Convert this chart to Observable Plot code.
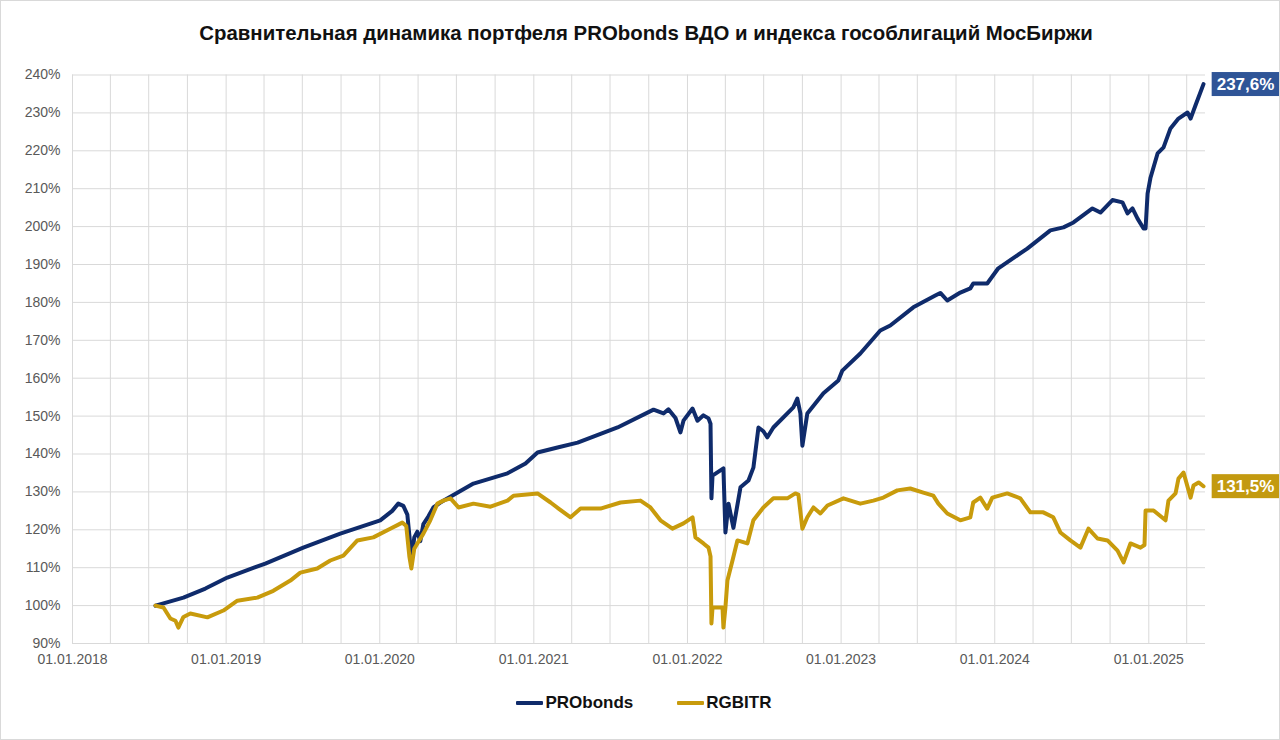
<!DOCTYPE html>
<html><head><meta charset="utf-8">
<script src="https://cdn.jsdelivr.net/npm/d3@7"></script>
<script src="https://cdn.jsdelivr.net/npm/@observablehq/plot@0.6"></script>
<style>
html,body{margin:0;padding:0;background:#fff;}
#wrap{position:relative;width:1280px;height:740px;background:#fff;font-family:"Liberation Sans",Arial,sans-serif;overflow:hidden}
#title{position:absolute;left:6px;top:21px;width:1280px;text-align:center;font-weight:bold;font-size:20.4px;line-height:24px;color:#111}
#chart{position:absolute;left:0;top:60px}
#legend{position:absolute;left:4px;top:691px;width:1280px;display:flex;justify-content:center;align-items:center;gap:44px;font-weight:bold;font-size:17px;line-height:24px;color:#111}
#legend .item{display:flex;align-items:center}
#legend .sw{display:inline-block;width:27px;height:3.5px;margin-right:2px;border-radius:1px}
#frame{position:absolute;left:0;top:0;right:0;bottom:0;border:1px solid #d9d9d9;pointer-events:none}
</style></head>
<body>
<div id="wrap">
  <div id="title"></div>
  <div id="chart"></div>
  <div id="legend"></div>
  <div id="frame"></div>
</div>
<script>
const titleText = "Сравнительная динамика портфеля PRObonds ВДО и индекса гособлигаций МосБиржи";
const seriesNames = ["PRObonds", "RGBITR"];
const seriesColors = ["#0f2b6b", "#c89b0c"];
const boxColors = ["#2f5597", "#c39a10"];

// dates as decimal years
const proYears = [2018.540, 2018.592, 2018.722, 2018.865, 2019.008, 2019.255, 2019.502, 2019.743, 2020.003, 2020.081, 2020.120, 2020.153, 2020.179, 2020.198, 2020.211, 2020.224, 2020.244, 2020.263, 2020.283, 2020.315, 2020.348, 2020.393, 2020.608, 2020.829, 2020.946, 2021.024, 2021.154, 2021.285, 2021.545, 2021.779, 2021.844, 2021.876, 2021.922, 2021.954, 2021.974, 2022.033, 2022.065, 2022.104, 2022.137, 2022.150, 2022.156, 2022.163, 2022.234, 2022.247, 2022.267, 2022.299, 2022.345, 2022.397, 2022.429, 2022.462, 2022.494, 2022.520, 2022.559, 2022.689, 2022.715, 2022.735, 2022.748, 2022.780, 2022.885, 2022.982, 2023.008, 2023.125, 2023.255, 2023.320, 2023.470, 2023.613, 2023.646, 2023.691, 2023.776, 2023.841, 2023.860, 2023.951, 2024.023, 2024.211, 2024.361, 2024.446, 2024.511, 2024.634, 2024.686, 2024.764, 2024.829, 2024.862, 2024.894, 2024.927, 2024.966, 2024.979, 2024.992, 2025.011, 2025.057, 2025.096, 2025.141, 2025.193, 2025.252, 2025.272, 2025.304, 2025.356];
const proValues = [100.0, 100.6, 102.1, 104.5, 107.4, 111.1, 115.3, 119.0, 122.5, 125.0, 126.9, 126.3, 124.0, 116.0, 113.7, 118.0, 119.5, 117.0, 121.5, 123.5, 125.9, 127.2, 132.2, 134.9, 137.5, 140.4, 141.7, 143.0, 147.0, 151.7, 150.7, 151.8, 149.5, 145.7, 148.8, 152.0, 148.8, 150.2, 149.4, 148.0, 128.3, 134.3, 136.2, 119.3, 126.9, 120.5, 131.2, 133.0, 136.4, 147.0, 146.0, 144.4, 147.0, 152.3, 154.6, 150.7, 142.2, 150.7, 156.0, 159.4, 162.0, 166.5, 172.6, 173.9, 178.7, 181.8, 182.5, 180.5, 182.6, 183.7, 185.0, 185.0, 189.0, 194.2, 199.0, 199.8, 201.1, 204.8, 203.7, 207.0, 206.4, 203.5, 204.8, 202.1, 199.5, 199.5, 208.7, 212.9, 219.3, 220.9, 225.9, 228.5, 230.1, 228.5, 232.0, 237.6];

const rgbYears = [2018.540, 2018.592, 2018.637, 2018.670, 2018.689, 2018.722, 2018.767, 2018.878, 2018.982, 2019.073, 2019.203, 2019.307, 2019.418, 2019.483, 2019.593, 2019.678, 2019.763, 2019.854, 2019.958, 2020.068, 2020.146, 2020.172, 2020.192, 2020.205, 2020.224, 2020.244, 2020.283, 2020.328, 2020.374, 2020.413, 2020.459, 2020.511, 2020.608, 2020.719, 2020.829, 2020.868, 2021.024, 2021.109, 2021.161, 2021.239, 2021.304, 2021.434, 2021.564, 2021.694, 2021.759, 2021.824, 2021.902, 2021.974, 2022.033, 2022.052, 2022.104, 2022.137, 2022.150, 2022.156, 2022.163, 2022.228, 2022.234, 2022.247, 2022.260, 2022.293, 2022.325, 2022.390, 2022.429, 2022.494, 2022.559, 2022.650, 2022.702, 2022.722, 2022.748, 2022.780, 2022.820, 2022.865, 2022.911, 2023.015, 2023.125, 2023.210, 2023.275, 2023.366, 2023.450, 2023.535, 2023.600, 2023.633, 2023.691, 2023.776, 2023.841, 2023.860, 2023.906, 2023.951, 2023.984, 2024.081, 2024.166, 2024.231, 2024.315, 2024.380, 2024.426, 2024.491, 2024.556, 2024.608, 2024.667, 2024.732, 2024.797, 2024.836, 2024.881, 2024.946, 2024.972, 2024.979, 2025.031, 2025.109, 2025.128, 2025.174, 2025.193, 2025.226, 2025.272, 2025.291, 2025.324, 2025.356];
const rgbValues = [100.0, 99.5, 96.6, 96.0, 94.2, 97.0, 97.9, 96.9, 98.7, 101.3, 102.1, 103.9, 106.6, 108.7, 109.8, 111.9, 113.2, 117.2, 118.0, 120.3, 121.9, 121.0, 113.0, 109.8, 115.0, 116.4, 119.0, 122.5, 126.9, 127.7, 128.3, 125.9, 126.9, 126.1, 127.7, 129.0, 129.6, 127.2, 125.6, 123.3, 125.6, 125.6, 127.2, 127.7, 125.9, 122.5, 120.3, 121.7, 123.3, 118.0, 116.4, 115.3, 113.0, 95.3, 99.5, 99.5, 94.2, 99.5, 106.6, 111.9, 117.2, 116.4, 122.5, 125.9, 128.3, 128.3, 129.6, 129.3, 120.3, 123.3, 125.9, 124.3, 126.4, 128.3, 126.9, 127.7, 128.5, 130.4, 130.9, 129.8, 129.0, 126.9, 124.3, 122.5, 123.3, 127.2, 128.5, 125.6, 128.5, 129.6, 128.3, 124.6, 124.6, 123.3, 119.3, 117.2, 115.3, 120.3, 117.7, 117.2, 114.5, 111.4, 116.4, 115.3, 116.0, 125.1, 125.1, 122.5, 127.7, 129.6, 133.5, 135.1, 128.5, 131.7, 132.5, 131.5];

const xTickLabels = ["01.01.2018","01.01.2019","01.01.2020","01.01.2021","01.01.2022","01.01.2023","01.01.2024","01.01.2025"];
const yTicks = [90,100,110,120,130,140,150,160,170,180,190,200,210,220,230,240];
const xDomainYears = [2018.0, 2025.369];

function toDate(y){
  const yr = Math.floor(y);
  const s = Date.UTC(yr,0,1), e = Date.UTC(yr+1,0,1);
  return new Date(s + (y-yr)*(e-s));
}
function parseLabel(s){ const [d,m,y] = s.split("."); return new Date(Date.UTC(+y, +m-1, +d)); }

const pro = proYears.map((y,i)=>({date: toDate(y), value: proValues[i]}));
const rgb = rgbYears.map((y,i)=>({date: toDate(y), value: rgbValues[i]}));
const fmt = v => d3.format(".1f")(v).replace(".", ",") + "%";
const ends = [pro, rgb].map((s,i)=>({date: s[s.length-1].date, value: s[s.length-1].value, label: fmt(s[s.length-1].value), box: boxColors[i]}));

const xStart = toDate(xDomainYears[0]), xEnd = toDate(xDomainYears[1]);
const yearDates = xTickLabels.map(parseLabel);
const quarterDates = d3.utcMonth.every(3).range(xStart, xEnd);

document.getElementById("title").textContent = titleText;

const chart = Plot.plot({
  width: 1280, height: 620,
  marginTop: 14.5, marginRight: 75, marginBottom: 37, marginLeft: 72,
  style: {fontFamily: '"Liberation Sans", Arial, sans-serif', fontSize: "14px", color: "#595959", background: "transparent", overflow: "visible"},
  x: {type: "utc", domain: [xStart, xEnd], ticks: yearDates, tickFormat: d3.utcFormat("%d.%m.%Y"), tickSize: 0, tickPadding: 11, label: null},
  y: {domain: [90, 240], ticks: yTicks, tickFormat: d => d + "%", tickSize: 0, tickPadding: 12, label: null},
  marks: [
    Plot.gridX(quarterDates, {stroke: "#d9d9d9", strokeOpacity: 1}),
    Plot.gridY(yTicks, {stroke: "#d9d9d9", strokeOpacity: 1}),
    Plot.line(pro, {x: "date", y: "value", stroke: seriesColors[0], strokeWidth: 4}),
    Plot.line(rgb, {x: "date", y: "value", stroke: seriesColors[1], strokeWidth: 4}),
    Plot.text(ends, {x: "date", y: "value", text: "label", dx: 42, fill: "white", fontWeight: "bold", fontSize: 17})
  ]
});
document.getElementById("chart").appendChild(chart);

d3.select(chart).selectAll('g[aria-label="text"] text').each(function(d, i){
  const b = this.getBBox();
  const cy = b.y + b.height/2;
  const r = document.createElementNS("http://www.w3.org/2000/svg", "rect");
  r.setAttribute("x", b.x - 5);
  r.setAttribute("width", b.width + 10);
  r.setAttribute("y", cy - 12);
  r.setAttribute("height", 24);
  r.setAttribute("fill", ends[i].box);
  const t = this.getAttribute("transform");
  if (t) r.setAttribute("transform", t);
  if (this.getAttribute("x") && !t) { /* positions in x/y attrs are already part of bbox */ }
  this.parentNode.insertBefore(r, this);
});

const legend = d3.select("#legend");
seriesNames.forEach((n,i)=>{
  const it = legend.append("div").attr("class","item");
  it.append("span").attr("class","sw").style("background", seriesColors[i]);
  it.append("span").text(n);
});
</script>
</body></html>
